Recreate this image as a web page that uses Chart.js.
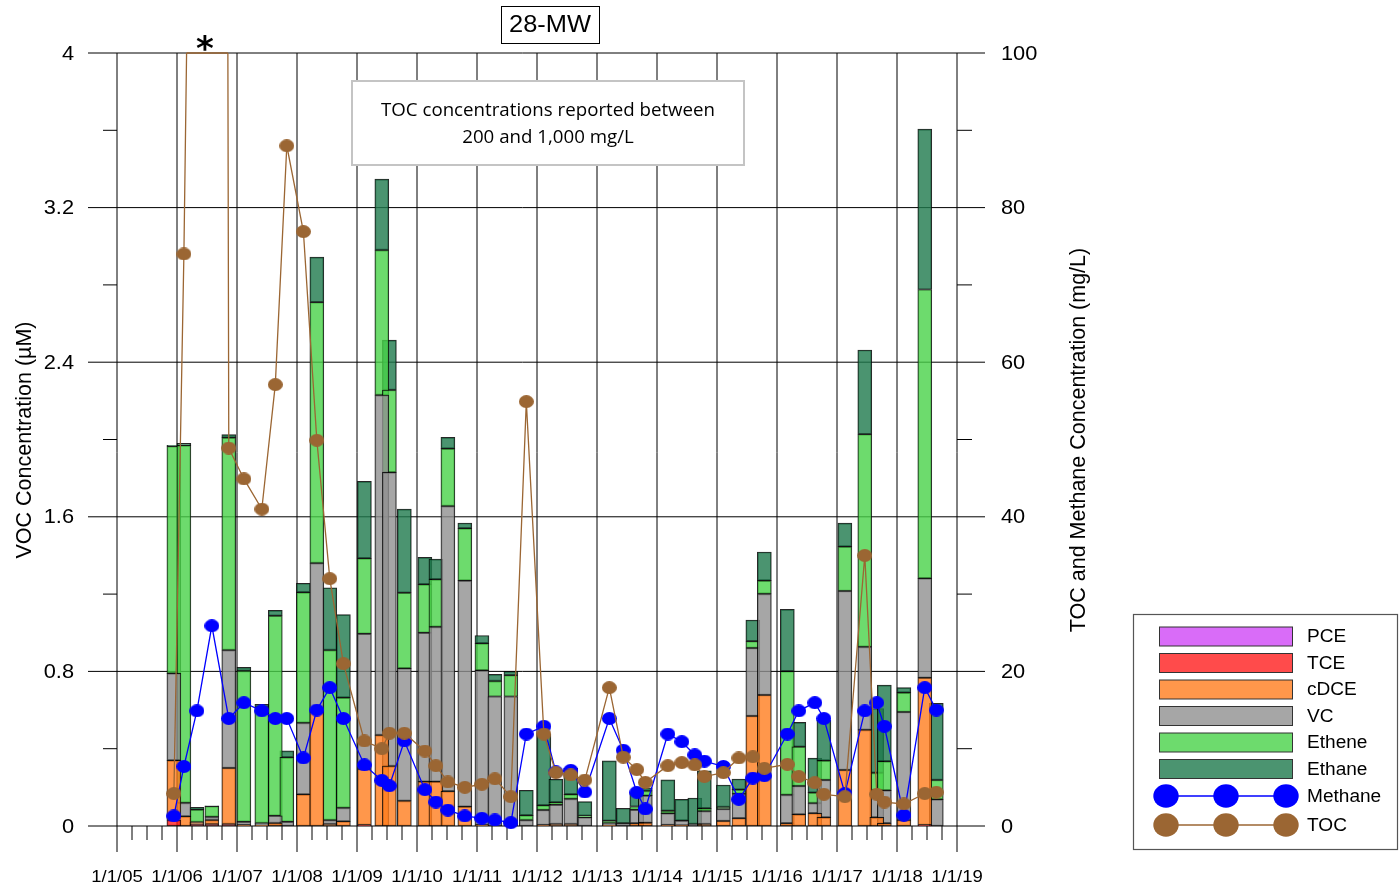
<!DOCTYPE html>
<html>
<head>
<meta charset="utf-8">
<title>28-MW</title>
<script src="https://cdn.jsdelivr.net/npm/chart.js@4.4.1/dist/chart.umd.min.js"></script>
<style>
  html, body { margin: 0; padding: 0; background: #fff; }
  #wrap { position: relative; width: 1400px; height: 890px; }
</style>
</head>
<body>
<div id="wrap"><canvas id="chart" width="1400" height="890"></canvas></div>
<script>
// sampling dates (one bar / one methane + TOC result each)
const sampleDates = [
  '2005-12-13', '2006-02-12', '2006-05-02', '2006-08-01', '2006-11-12',
  '2007-02-12', '2007-06-01', '2007-08-22', '2007-10-31',
  '2008-02-09', '2008-05-01', '2008-07-19', '2008-10-10',
  '2009-02-15', '2009-06-01', '2009-07-17', '2009-10-16',
  '2010-02-18', '2010-04-26', '2010-07-08', '2010-10-19',
  '2011-01-31', '2011-04-20', '2011-07-26', '2011-10-28',
  '2012-02-12', '2012-04-25', '2012-07-25', '2012-10-19',
  '2013-03-17', '2013-06-10', '2013-08-31', '2013-10-22',
  '2014-03-08', '2014-06-01', '2014-08-19', '2014-10-16',
  '2015-02-09', '2015-05-14', '2015-08-07', '2015-10-16',
  '2016-03-04', '2016-05-13', '2016-08-19', '2016-10-13',
  '2017-02-18', '2017-06-19', '2017-08-31', '2017-10-16',
  '2018-02-12', '2018-06-19', '2018-08-28'
];

// VOC concentrations, uM
const pce = new Array(52).fill(0);
const tce = [
  0.03, 0, 0.01, 0.01, 0.01, 0, 0, 0, 0, 0, 0, 0, 0,
  0.005, 0, 0, 0, 0, 0, 0, 0, 0, 0, 0, 0, 0, 0, 0, 0,
  0, 0, 0, 0, 0, 0, 0, 0, 0, 0, 0, 0, 0, 0, 0, 0,
  0, 0, 0, 0, 0, 0.005, 0
];
const cdce = [
  0.31, 0.05, 0.01, 0.02, 0.29, 0.005, 0.005, 0.015, 0,
  0.164, 0.59, 0.01, 0.024, 0.29, 0.47, 0.31, 0.13,
  0.23, 0.23, 0.18, 0.10, 0.005, 0, 0, 0,
  0.005, 0.01, 0.01, 0, 0.005, 0, 0.014, 0.017,
  0.005, 0.003, 0, 0.01, 0.026, 0.04, 0.569, 0.678,
  0.014, 0.06, 0.066, 0.045, 0.29, 0.497, 0.045, 0.014,
  0.03, 0.762, 0
];
const vc = [
  0.45, 0.07, 0, 0.017, 0.61, 0.017, 0.01, 0.038, 0.022,
  0.37, 0.77, 0.02, 0.07, 0.70, 1.76, 1.52, 0.686,
  0.77, 0.80, 1.475, 1.17, 0.80, 0.67, 0.67, 0.03,
  0.078, 0.10, 0.13, 0.045, 0.01, 0.014, 0.07, 0.14,
  0.06, 0.025, 0.01, 0.067, 0.062, 0.127, 0.352, 0.523,
  0.147, 0.147, 0.052, 0.193, 0.926, 0.43, 0.14, 0.17,
  0.56, 0.514, 0.138
];
const ethene = [
  1.175, 1.85, 0.065, 0.055, 1.10, 0.781, 0.60, 1.035, 0.333,
  0.675, 1.35, 0.88, 0.57, 0.39, 0.75, 0.426, 0.391,
  0.25, 0.246, 0.298, 0.27, 0.14, 0.08, 0.11, 0.025,
  0.024, 0.012, 0.024, 0.007, 0.012, 0, 0.017, 0.025,
  0.014, 0, 0, 0.014, 0.01, 0.021, 0.035, 0.069,
  0.64, 0.203, 0.055, 0.10, 0.23, 1.10, 0.09, 0.15,
  0.10, 1.495, 0.10
];
const ethane = [
  0.005, 0.01, 0.012, 0.003, 0.015, 0.018, 0.015, 0.028, 0.034,
  0.047, 0.234, 0.323, 0.43, 0.398, 0.367, 0.258, 0.433,
  0.14, 0.105, 0.058, 0.028, 0.041, 0.035, 0.02, 0.13,
  0.37, 0.12, 0.135, 0.074, 0.31, 0.078, 0.07, 0.015,
  0.16, 0.11, 0.135, 0.195, 0.114, 0.055, 0.11, 0.148,
  0.32, 0.126, 0.178, 0.21, 0.121, 0.436, 0.333, 0.395,
  0.026, 0.83, 0.397
];

// mg/L
const methane = [
  1.3, 7.7, 14.9, 25.9, 13.9, 15.95, 14.9, 13.9, 13.9,
  8.8, 15.0, 17.9, 13.9, 7.9, 5.9, 5.2, 11.0,
  4.7, 3.1, 2.06, 1.3, 1.0, 0.78, 0.43, 11.9,
  12.9, 7.0, 7.2, 4.4, 13.9, 9.8, 4.36, 2.2,
  11.9, 10.9, 9.2, 8.4, 7.7, 3.45, 6.2, 6.5,
  11.9, 14.9, 15.95, 13.9, 4.2, 14.9, 15.95, 12.9,
  1.4, 17.9, 15.0
];
// 3rd and 4th results were reported between 200 and 1,000 mg/L (off scale)
const toc = [
  4.2, 74, 200, 1000, 48.9, 44.9, 41.0, 57.1, 88.0,
  76.9, 49.9, 32.0, 21.0, 11.0, 10.0, 12.0, 12.0,
  9.7, 7.8, 5.7, 5.0, 5.4, 6.1, 3.8, 54.9,
  11.9, 6.9, 6.6, 5.95, 17.9, 8.9, 7.3, 5.65,
  7.8, 8.2, 7.9, 6.4, 6.9, 8.8, 8.96, 7.46,
  7.98, 6.4, 5.6, 4.1, 3.8, 35.0, 4.1, 3.1,
  2.85, 4.2, 4.36
];

const yearLabels = ['1/1/05', '1/1/06', '1/1/07', '1/1/08', '1/1/09', '1/1/10', '1/1/11',
  '1/1/12', '1/1/13', '1/1/14', '1/1/15', '1/1/16', '1/1/17', '1/1/18', '1/1/19'];
const vocTicks = ['0', '0.8', '1.6', '2.4', '3.2', '4'];
const mgTicks = ['0', '20', '40', '60', '80', '100'];

function toYear(s) {
  const [y, m, d] = s.split('-').map(Number);
  const start = Date.UTC(y, 0, 1), end = Date.UTC(y + 1, 0, 1);
  return y + (Date.UTC(y, m - 1, d) - start) / (end - start);
}
const xs = sampleDates.map(toYear);
const barPts = arr => arr.map((v, i) => ({ x: xs[i], y: v > 0 ? v : null }));
const linePts = arr => arr.map((v, i) => ({ x: xs[i], y: v }));

function ellipseMarker(w, h, color) {
  const c = document.createElement('canvas');
  c.width = w; c.height = h;
  const g = c.getContext('2d');
  g.fillStyle = color;
  g.beginPath();
  g.ellipse(w / 2, h / 2, w / 2, h / 2, 0, 0, Math.PI * 2);
  g.fill();
  return c;
}

const BLUE = '#0000ff', BROWN = '#9b6633';

function barSet(label, values, fill) {
  return {
    type: 'bar', label, data: barPts(values), yAxisID: 'y', stack: 'voc',
    backgroundColor: fill, borderColor: 'rgba(0,0,0,0.85)', borderWidth: 1,
    borderSkipped: false, barThickness: 14
  };
}

function text(ctx, str, x, y, font, align, base, sx) {
  ctx.save();
  ctx.font = font;
  ctx.textAlign = align;
  ctx.textBaseline = base;
  ctx.translate(x, y);
  ctx.scale(sx || 1, 1);
  ctx.fillText(str, 0, 0);
  ctx.restore();
}

const AX = '"Liberation Sans", Arial, sans-serif';

const frame = {
  id: 'frame',
  beforeDatasetsDraw(chart) {
    const { ctx, chartArea: a, scales } = chart;
    const x = scales.x, y = scales.y, y2 = scales.y2;
    ctx.save();
    ctx.strokeStyle = '#000';
    ctx.lineWidth = 1;
    ctx.beginPath();
    vocTicks.forEach((t, i) => {
      const py = y.getPixelForValue(parseFloat(t));
      ctx.moveTo(88, py); ctx.lineTo(a.right, py);
      if (i < vocTicks.length - 1) {
        const my = y.getPixelForValue((parseFloat(t) + parseFloat(vocTicks[i + 1])) / 2);
        ctx.moveTo(a.left - 14, my); ctx.lineTo(a.left, my);
      }
    });
    mgTicks.forEach((t, i) => {
      const py = y2.getPixelForValue(parseFloat(t));
      ctx.moveTo(a.right, py); ctx.lineTo(a.right + 28, py);
      if (i < mgTicks.length - 1) {
        const my = y2.getPixelForValue(parseFloat(t) + 10);
        ctx.moveTo(a.right, my); ctx.lineTo(a.right + 15, my);
      }
    });
    yearLabels.forEach((l, i) => {
      const yr = 2005 + i;
      const px = x.getPixelForValue(yr);
      ctx.moveTo(px, a.top); ctx.lineTo(px, a.bottom + 26);
      if (yr < 2019) {
        for (let q = 1; q < 4; q++) {
          const qx = x.getPixelForValue(yr + q / 4);
          ctx.moveTo(qx, a.bottom); ctx.lineTo(qx, a.bottom + 14);
        }
      }
    });
    ctx.stroke();
    ctx.restore();
  },
  afterDatasetsDraw(chart) {
    // TOC results above the axis maximum run along the top of the frame
    const { ctx, chartArea: a } = chart;
    const pts = chart.getDatasetMeta(0).data;
    const top = a.top;
    ctx.save();
    ctx.strokeStyle = BROWN;
    ctx.lineWidth = 1.3;
    ctx.beginPath();
    for (let i = 0; i < pts.length - 1; i++) {
      const p = pts[i], q = pts[i + 1];
      const pOut = p.y < top, qOut = q.y < top;
      if (!pOut && !qOut) continue;
      const cross = p.x + (top - p.y) * (q.x - p.x) / (q.y - p.y);
      const x0 = pOut ? p.x : cross, x1 = qOut ? q.x : cross;
      ctx.moveTo(x0, top); ctx.lineTo(x1, top);
    }
    ctx.stroke();
    ctx.restore();
  },
  afterDraw(chart) {
    const { ctx, scales } = chart;
    ctx.save();
    ctx.fillStyle = '#000';
    const SX = 1.09;
    vocTicks.forEach(t => {
      text(ctx, t, 74, scales.y.getPixelForValue(parseFloat(t)) + 1, '20px ' + AX, 'right', 'middle', SX);
    });
    mgTicks.forEach(t => {
      text(ctx, t, 1001, scales.y2.getPixelForValue(parseFloat(t)) + 1, '20px ' + AX, 'left', 'middle', SX);
    });
    yearLabels.forEach((l, i) => {
      text(ctx, l, scales.x.getPixelForValue(2005 + i), 882, '17px ' + AX, 'center', 'alphabetic', SX);
    });

    // axis titles
    ctx.save();
    ctx.translate(25, 440); ctx.rotate(-Math.PI / 2);
    text(ctx, 'VOC Concentration (\u00b5M)', 0, 0, '21.5px ' + AX, 'center', 'middle');
    ctx.restore();
    ctx.save();
    ctx.translate(1079, 440); ctx.rotate(-Math.PI / 2);
    text(ctx, 'TOC and Methane Concentration (mg/L)', 0, 0, '21.5px ' + AX, 'center', 'middle');
    ctx.restore();

    // title box
    ctx.fillStyle = '#fff';
    ctx.fillRect(501, 6, 98, 37);
    ctx.strokeStyle = '#000'; ctx.lineWidth = 1;
    ctx.strokeRect(501.5, 6.5, 98, 37);
    ctx.fillStyle = '#000';
    text(ctx, '28-MW', 550, 25, '24px ' + AX, 'center', 'middle', 1.06);

    // asterisk over the off-scale TOC results
    text(ctx, '*', 205, 60, 'bold 34px "DejaVu Sans", sans-serif', 'center', 'alphabetic');

    // note box
    ctx.fillStyle = '#fff';
    ctx.fillRect(351, 80, 394, 86);
    ctx.strokeStyle = '#c4c4c4'; ctx.lineWidth = 2;
    ctx.strokeRect(352, 81, 392, 84);
    ctx.fillStyle = '#000';
    const nf = '18px "Open Sans", sans-serif';
    ctx.font = nf;
    const nsx = 334 / ctx.measureText('TOC concentrations reported between').width;
    text(ctx, 'TOC concentrations reported between', 548, 111, nf, 'center', 'middle', nsx);
    text(ctx, '200 and 1,000 mg/L', 548, 138, nf, 'center', 'middle', nsx);

    // legend
    ctx.fillStyle = '#fff';
    ctx.fillRect(1133, 614, 264, 235);
    ctx.strokeStyle = '#555'; ctx.lineWidth = 1.2;
    ctx.strokeRect(1133.5, 614.5, 264, 235);
    const rows = [636.5, 663, 689.5, 716, 742.5, 769];
    legendBars.forEach((b, i) => {
      ctx.fillStyle = b.color;
      ctx.fillRect(1159.5, rows[i] - 9.5, 133, 19);
      ctx.strokeStyle = '#333'; ctx.lineWidth = 1;
      ctx.strokeRect(1159.5, rows[i] - 9.5, 133, 19);
      ctx.fillStyle = '#000';
      text(ctx, b.label, 1307, rows[i] + 1, '17.5px ' + AX, 'left', 'middle', SX);
    });
    [['Methane', BLUE, 796], ['TOC', BROWN, 825]].forEach(([label, color, ry]) => {
      ctx.strokeStyle = color; ctx.lineWidth = 1.6;
      ctx.beginPath(); ctx.moveTo(1166, ry); ctx.lineTo(1286, ry); ctx.stroke();
      ctx.fillStyle = color;
      [1166, 1226, 1286].forEach(cx => {
        ctx.beginPath(); ctx.ellipse(cx, ry, 12.7, 11.7, 0, 0, Math.PI * 2); ctx.fill();
      });
      ctx.fillStyle = '#000';
      text(ctx, label, 1307, ry + 1, '17.5px ' + AX, 'left', 'middle', SX);
    });
    ctx.restore();
  }
};

const legendBars = [
  { label: 'PCE', color: '#d96cf8' },
  { label: 'TCE', color: '#ff4b4b' },
  { label: 'cDCE', color: '#ff974b' },
  { label: 'VC', color: '#a6a6a6' },
  { label: 'Ethene', color: '#6ddb6d' },
  { label: 'Ethane', color: '#4b9470' }
];

new Chart(document.getElementById('chart'), {
  type: 'bar',
  data: {
    datasets: [
      {
        type: 'line', label: 'TOC', data: linePts(toc), yAxisID: 'y2',
        borderColor: BROWN, borderWidth: 1.3, tension: 0,
        pointStyle: ellipseMarker(15, 13, BROWN), pointRadius: 7,
        clip: { left: 20, top: 0, right: 20, bottom: 20 }
      },
      {
        type: 'line', label: 'Methane', data: linePts(methane), yAxisID: 'y2',
        borderColor: BLUE, borderWidth: 1.3, tension: 0,
        pointStyle: ellipseMarker(15, 13, BLUE), pointRadius: 7,
        clip: { left: 20, top: 0, right: 20, bottom: 20 }
      },
      barSet('PCE', pce, 'rgba(207,71,247,0.8)'),
      barSet('TCE', tce, 'rgba(255,30,30,0.8)'),
      barSet('cDCE', cdce, 'rgba(255,125,30,0.8)'),
      barSet('VC', vc, 'rgba(144,144,144,0.8)'),
      barSet('Ethene', ethene, 'rgba(72,210,72,0.8)'),
      barSet('Ethane', ethane, 'rgba(30,121,76,0.8)')
    ]
  },
  options: {
    responsive: false,
    animation: false,
    devicePixelRatio: 1,
    events: [],
    layout: { padding: { left: 117, right: 443, top: 53, bottom: 64 } },
    plugins: { legend: { display: false }, tooltip: { enabled: false } },
    scales: {
      x: { type: 'linear', min: 2005, max: 2019, offset: false, stacked: true, display: false },
      y: { type: 'linear', min: 0, max: 4, stacked: true, display: false },
      y2: { type: 'linear', min: 0, max: 100, stacked: false, display: false, position: 'right' }
    }
  },
  plugins: [frame]
});
</script>
</body>
</html>
